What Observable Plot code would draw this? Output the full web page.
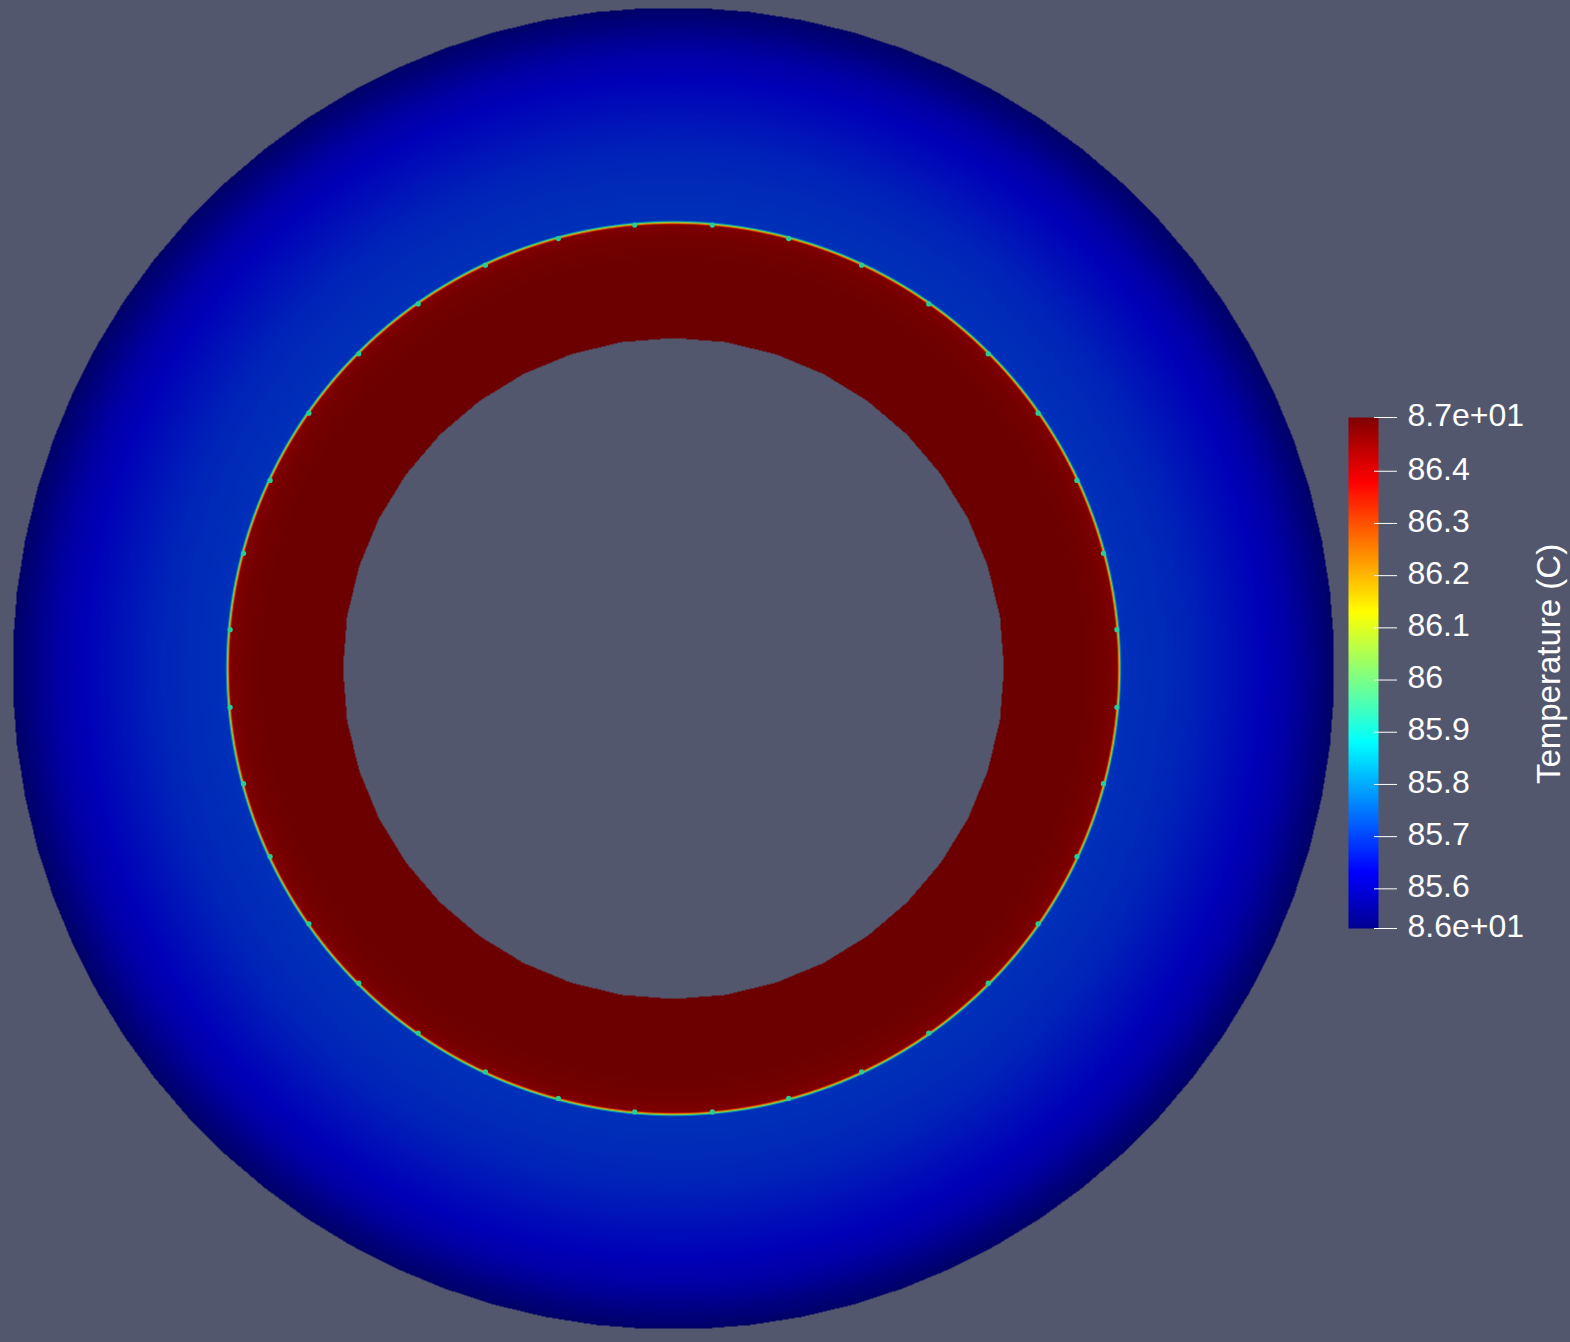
<!DOCTYPE html>
<html>
<head>
<meta charset="utf-8">
<script src="https://cdn.jsdelivr.net/npm/d3@7"></script>
<script src="https://cdn.jsdelivr.net/npm/@observablehq/plot@0.6"></script>
<style>
  body { margin: 0; background: #52576e; width: 1570px; height: 1342px; overflow: hidden; position: relative; font-family: "Liberation Sans", Arial, sans-serif; }
  #disc { position: absolute; left: 0; top: 0; }
  #bar { position: absolute; left: 1340px; top: 0; }
  #disc svg { filter: url(#lit); }
</style>
</head>
<body>
<svg width="0" height="0" style="position:absolute">
  <filter id="lit" color-interpolation-filters="sRGB">
    <feColorMatrix type="matrix" values="0.84 0 0 0 0  0 0.8 0 0 0  0 0 0.72 0 0  0 0 0 1 0"/>
  </filter>
</svg>
<div id="disc"></div>
<div id="bar"></div>
<script>
// data range of the field (C)
const tMin = 85.524;
const tMax = 86.503;

// jet colour map: stops in [-1, 1] and their colours
const jetStops = [-1, -0.777778, -0.269841, -0.015873, 0.238095, 0.746032, 1];
const jetColors = ["#000090", "#0000ff", "#00ffff", "#80ff80", "#ffff00", "#ff0000", "#800000"];

// radial temperature profile (radius in model units, outer radius 30)
const profileRadius = [30, 29.2, 28.5, 27.8, 27.2, 26.7, 26.0, 25.3, 24.6, 23.3, 22.4, 21.5, 20.9, 20.32, 20.15, 19.5, 18.5, 15];
const profileTemp = [85.524, 85.556, 85.585, 85.611, 85.624, 85.634, 85.643, 85.652, 85.661, 85.676, 85.682, 85.686, 85.689, 85.691, 86.48, 86.495, 86.503, 86.503];

// mesh nodes on the interface (degrees from the top) and their temperature
const nodeAngles = [5, 15, 25, 35, 45, 55, 65, 75, 85, 95, 105, 115, 125, 135, 145, 155, 165, 175,
  185, 195, 205, 215, 225, 235, 245, 255, 265, 275, 285, 295, 305, 315, 325, 335, 345, 355];
const nodeTemp = 85.93;

// geometry
const outerRadius = 30, outerSides = 80;
const holeRadius = 15, holeSides = 40;
const interfaceRadius = 20.2;

// colour bar ticks
const tickValues = [tMin, 85.6, 85.7, 85.8, 85.9, 86.0, 86.1, 86.2, 86.3, 86.4, tMax];
const tickLabels = ["8.6e+01", "85.6", "85.7", "85.8", "85.9", "86", "86.1", "86.2", "86.3", "86.4", "8.7e+01"];

const colorScale = {
  type: "linear",
  domain: jetStops.map(t => tMin + (t + 1) / 2 * (tMax - tMin)),
  range: jetColors,
  interpolate: "rgb",
  clamp: true
};

const profile = d3.scaleLinear(profileRadius, profileTemp).clamp(true);

function temperatureAt(x, y) {
  const r = Math.hypot(x, y);
  const a = Math.atan2(x, y);
  const so = 2 * Math.PI / outerSides;
  const dOut = a - Math.round(a / so) * so;
  if (r * Math.cos(dOut) > outerRadius * Math.cos(so / 2)) return NaN;
  const sh = 2 * Math.PI / holeSides;
  const ah = a - sh / 2;
  const dIn = ah - Math.round(ah / sh) * sh;
  if (r * Math.cos(dIn) < holeRadius * Math.cos(sh / 2)) return NaN;
  return profile(r);
}

const k = 661 / outerRadius; // pixels per unit
const W = 1346, H = 1336;

let disc = Plot.plot({
  width: W,
  height: H,
  margin: 0,
  style: {background: "transparent", maxWidth: "none"},
  x: {domain: [-W / 2 / k, W / 2 / k], axis: null},
  y: {domain: [-H / 2 / k, H / 2 / k], axis: null},
  color: colorScale,
  marks: [
    Plot.raster({fill: temperatureAt, x1: -W / 2 / k, x2: W / 2 / k, y1: -H / 2 / k, y2: H / 2 / k, pixelSize: 1}),
    Plot.dot(nodeAngles, {
      x: a => interfaceRadius * Math.sin(a * Math.PI / 180),
      y: a => interfaceRadius * Math.cos(a * Math.PI / 180),
      fill: () => nodeTemp,
      r: 2.6
    })
  ]
});
d3.select('#disc').append(() => disc);

let bar = Plot.plot({
  width: 230,
  height: 1342,
  marginLeft: 8,
  marginRight: 192,
  marginTop: 417,
  marginBottom: 414,
  style: {background: "transparent", maxWidth: "none", fontFamily: "Liberation Sans, Arial, sans-serif"},
  x: {domain: [0, 1], axis: null},
  y: {domain: [tMin, tMax]},
  color: colorScale,
  marks: [
    Plot.raster({fill: (x, y) => y, x1: 0, x2: 1, y1: tMin, y2: tMax, pixelSize: 1}),
    Plot.axisY(tickValues, {anchor: "right", tickSize: 23, dx: -5, stroke: "white", fill: "none", label: null}),
    Plot.axisY(tickValues, {
      anchor: "right", tickSize: 0, tickPadding: 29, dy: -2,
      tickFormat: d => tickLabels[tickValues.indexOf(d)],
      fill: "white", fontSize: 32, label: null
    }),
    Plot.text(["Temperature (C)"], {frameAnchor: "middle", rotate: -90, dx: 186, dy: -9, fontSize: 33, fill: "white"})
  ]
});
d3.select('#bar').append(() => bar);
</script>
</body>
</html>
